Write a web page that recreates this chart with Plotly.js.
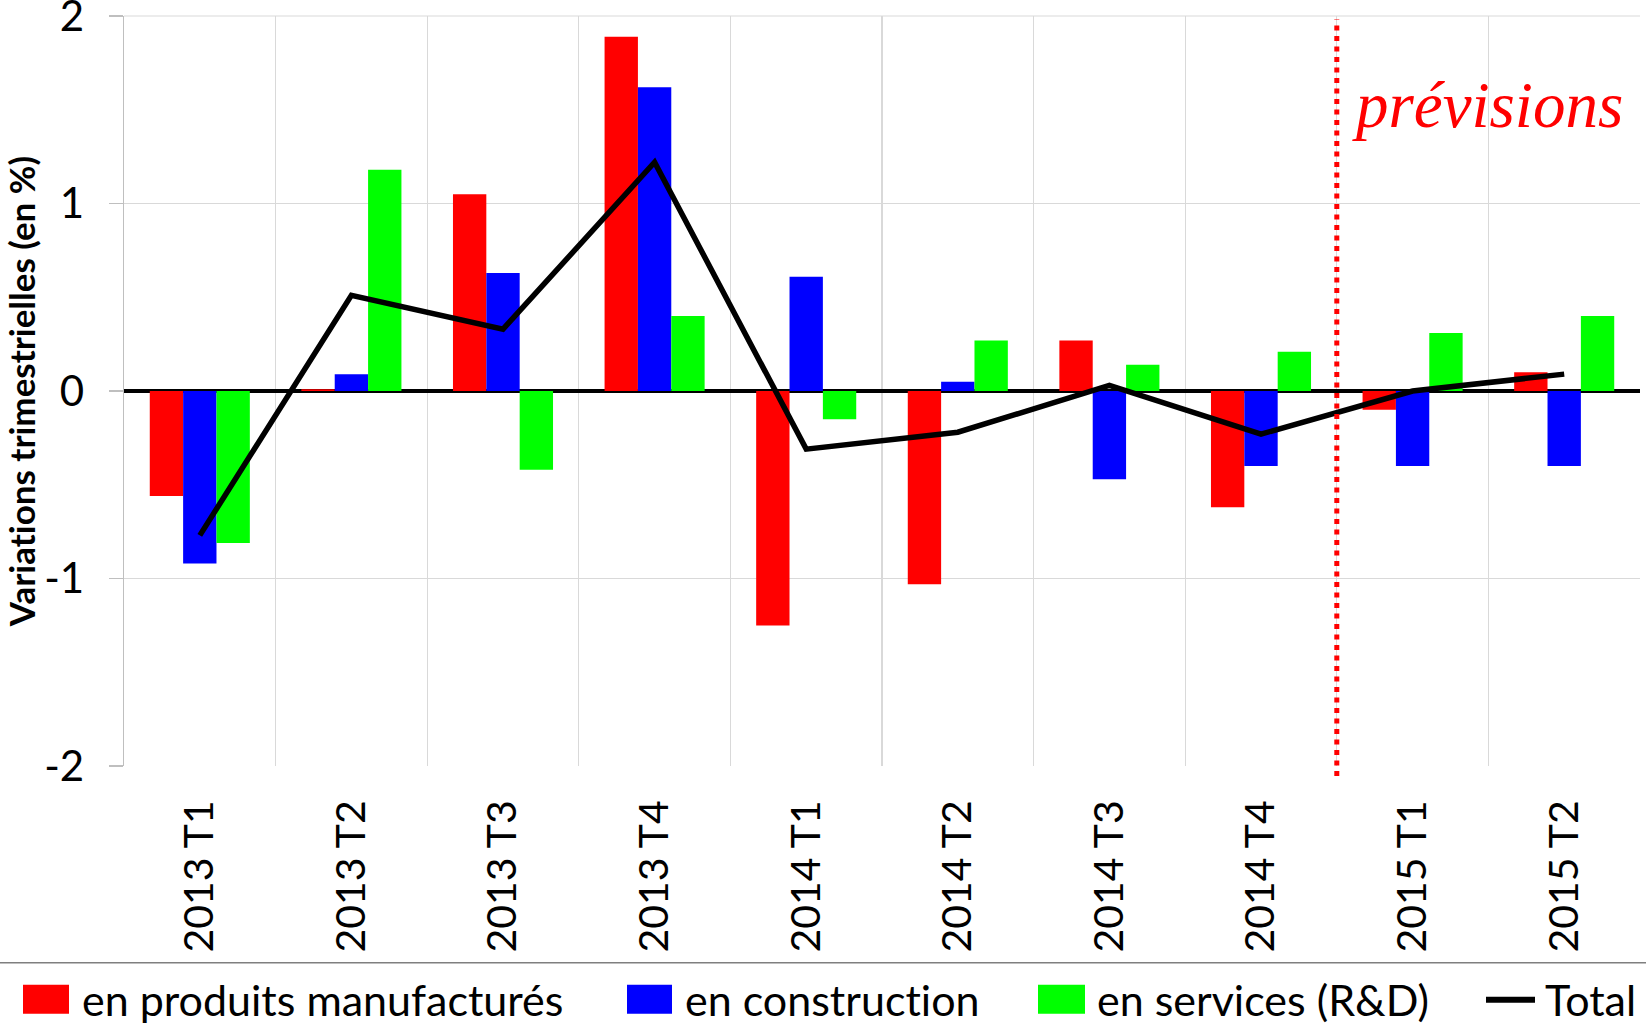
<!DOCTYPE html>
<html>
<head>
<meta charset="utf-8">
<script src="https://cdn.plot.ly/plotly-3.0.1.min.js"></script>
<style>
html,body{margin:0;padding:0;background:#fff;}
#chart{width:1646px;height:1031px;}
svg text{font-variant-ligatures:none !important; font-feature-settings:"liga" 0, "clig" 0 !important;}
</style>
</head>
<body>
<div id="chart"></div>
<script>
const categories = ["2013 T1","2013 T2","2013 T3","2013 T4","2014 T1","2014 T2","2014 T3","2014 T4","2015 T1","2015 T2"];
const manufactures = [-0.56, 0.01, 1.05, 1.89, -1.25, -1.03, 0.27, -0.62, -0.10, 0.10];
const construction = [-0.92, 0.09, 0.63, 1.62, 0.61, 0.05, -0.47, -0.40, -0.40, -0.40];
const services = [-0.81, 1.18, -0.42, 0.40, -0.15, 0.27, 0.14, 0.21, 0.31, 0.40];
const total = [-0.77, 0.51, 0.33, 1.22, -0.31, -0.22, 0.03, -0.23, 0.00, 0.09];
const seriesNames = ["en produits manufacturés", "en construction", "en services (R&D)", "Total"];
const yTickVals = [-2, -1, 0, 1, 2];
const yTickText = ["-2", "-1", "0", "1", "2"];
const forecastLabel = "prévisions";
const yTitle = "Variations trimestrielles (en %)";

const FONT = "Lato, 'Open Sans', sans-serif";
const colors = ["#ff0000", "#0000ff", "#00ff00", "#000000"];

const traces = [
  {type: "bar", name: seriesNames[0], x: categories, y: manufactures, marker: {color: colors[0]}, showlegend: false},
  {type: "bar", name: seriesNames[1], x: categories, y: construction, marker: {color: colors[1]}, showlegend: false},
  {type: "bar", name: seriesNames[2], x: categories, y: services, marker: {color: colors[2]}, showlegend: false},
  {type: "scatter", mode: "lines", name: seriesNames[3], x: categories, y: total, line: {color: colors[3], width: 5.5}, cliponaxis: false, showlegend: false}
];

// plot area in pixels
const L = 124, R = 1640, T = 15.5, B = 766;
const px = v => (v - L) / (R - L);
const py = v => (B - v) / (B - T);

const shapes = [
  {type: "line", xref: "paper", yref: "paper", x0: 0, x1: 1, y0: 1, y1: 1, layer: "below", line: {color: "#d9d9d9", width: 1.2}},
  {type: "line", xref: "x", yref: "paper", x0: 7.5, x1: 7.5, y0: py(776), y1: py(19), line: {color: "#ff0000", width: 5, dash: "5px,5.5px"}},
  {type: "line", xref: "paper", yref: "paper", x0: px(0), x1: px(1646), y0: py(963), y1: py(963), line: {color: "#7f7f7f", width: 1.5}}
];
const swatches = [[23, 69], [627, 672], [1038, 1085]];
swatches.forEach((s, i) => {
  shapes.push({type: "rect", xref: "paper", yref: "paper", x0: px(s[0]), x1: px(s[1]), y0: py(1014), y1: py(985), fillcolor: colors[i], line: {width: 0}});
});
shapes.push({type: "line", xref: "paper", yref: "paper", x0: px(1486), x1: px(1535), y0: py(1000), y1: py(1000), line: {color: "#000", width: 6}});

const textX = [80, 683, 1095, 1543];
const annotations = textX.map((t, i) => ({
  xref: "paper", yref: "paper", x: px(t), y: py(1000), xanchor: "left", yanchor: "middle",
  text: seriesNames[i], showarrow: false, font: {family: FONT, size: 43, color: "#000"}
}));
annotations.push({
  xref: "paper", yref: "paper", x: px(1350), y: py(105), xanchor: "left", yanchor: "middle",
  text: "<i>" + forecastLabel + "</i>", showarrow: false,
  font: {family: "'Liberation Serif', 'Times New Roman', serif", size: 65, color: "#ff0000"}
});

const layout = {
  width: 1646, height: 1031,
  margin: {l: L, r: 1646 - R, t: T, b: 1031 - B, pad: 0},
  paper_bgcolor: "#fff", plot_bgcolor: "#fff",
  barmode: "group", bargap: 0.34, bargroupgap: 0,
  font: {family: FONT, color: "#000"},
  showlegend: false,
  xaxis: {
    type: "category", tickson: "boundaries", showgrid: true, gridcolor: "#d9d9d9", gridwidth: 1.2,
    ticks: "", tickangle: -90, tickfont: {family: FONT, size: 41, color: "#000"},
    showline: false, zeroline: false, automargin: false, ticklabelstandoff: 25
  },
  yaxis: {
    range: [-2, 2], tickmode: "array", tickvals: yTickVals, ticktext: yTickText,
    ticklabeloverflow: "allow",
    showgrid: true, gridcolor: "#d9d9d9", gridwidth: 1.2,
    zeroline: true, zerolinecolor: "#000", zerolinewidth: 4,
    showline: true, linecolor: "#bfbfbf", linewidth: 1.5,
    ticks: "outside", ticklen: 14, tickcolor: "#bfbfbf", tickwidth: 1.5,
    tickfont: {family: FONT, size: 42, color: "#000"}, ticklabelstandoff: 16,
    automargin: false,
    title: {text: "<b>" + yTitle + "</b>", font: {family: FONT, size: 35, color: "#000"}, standoff: 14}
  },
  shapes: shapes,
  annotations: annotations
};

Plotly.newPlot("chart", traces, layout, {displayModeBar: false, staticPlot: true});
</script>
</body>
</html>
